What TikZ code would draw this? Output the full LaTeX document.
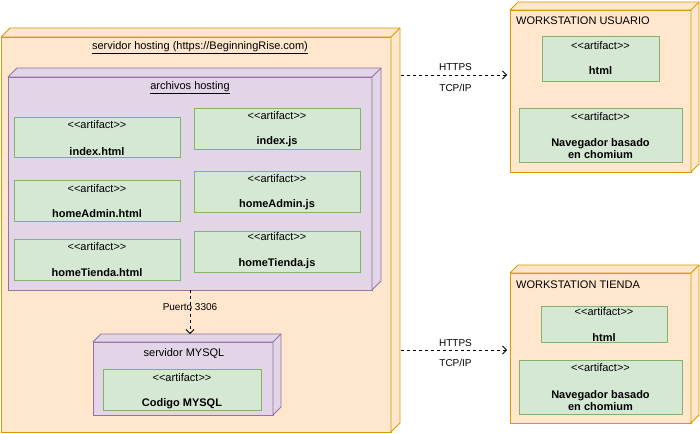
\documentclass[tikz,border=0pt]{standalone}
\usepackage{fontspec}
\setmainfont{Liberation Sans}
\usetikzlibrary{arrows.meta,calc}
\definecolor{orfill}{HTML}{FFE6CC}
\definecolor{ordraw}{HTML}{D79B00}
\definecolor{pufill}{HTML}{E1D5E7}
\definecolor{pudraw}{HTML}{9673A6}
\definecolor{grfill}{HTML}{D5E8D4}
\definecolor{grdraw}{HTML}{82B366}
\newcommand\stereo{<\kern0pt<artifact>\kern0pt>}
\newcommand\cubeside[3]{%
  \filldraw[#3] (#1.north west) -- ++(#2,-#2) -- ([shift={(#2,-#2)}]#1.north east)
    -- ([shift={(#2,-#2)}]#1.south east) -- (#1.south east) -- (#1.north east) -- cycle;
  \draw[#3] (#1.north east) -- ++(#2,-#2);}
\begin{document}
\begin{tikzpicture}[x=1pt,y=-1pt,
  face/.style={inner sep=0, outer sep=0, line width=0.9pt, anchor=north west},
  orbox/.style={face, draw=ordraw, fill=orfill},
  pubox/.style={face, draw=pudraw, fill=pufill},
  artbox/.style={face, draw=grdraw, fill=grfill},
  orside/.style={draw=ordraw, fill=orfill, line width=0.9pt, line join=round},
  puside/.style={draw=pudraw, fill=pufill, line width=0.9pt, line join=round},
  txt/.style={inner sep=0, font=\fontsize{11}{13}\selectfont},
  bold/.style={inner sep=0, align=center, font=\fontsize{11}{12}\selectfont\bfseries},
  small/.style={inner sep=0, font=\fontsize{10}{12}\selectfont},
  conn/.style={dash pattern=on 3pt off 3pt, line width=0.8pt, -{Straight Barb[length=4pt,width=8pt]}}]
\useasboundingbox (0,0) rectangle (700,433);

% servidor hosting
\node[orbox, minimum width=390pt, minimum height=395pt] (host) at (1,37) {};
\cubeside{host}{9}{orside}
\node[txt] (hostT) at (200,48) {\underline{servidor hosting (https://BeginningRise.com)}};

% archivos hosting
\node[pubox, minimum width=364pt, minimum height=213pt] (arch) at (8,77) {};
\cubeside{arch}{9}{puside}
\node[txt] (archT) at (190,88) {\underline{archivos hosting}};

% artifacts
\node[artbox, minimum width=166pt, minimum height=40pt] (a1) at (14,117) {};
\node[txt] (a1s) at (97,125) {\stereo};
\node[bold] (a1n) at (97,152) {index.html};

\node[artbox, minimum width=166pt, minimum height=41pt] (a2) at (194,108) {};
\node[txt] (a2s) at (277,116) {\stereo};
\node[bold] (a2n) at (277,142) {index.js};

\node[artbox, minimum width=166pt, minimum height=41pt] (a3) at (14,180) {};
\node[txt] (a3s) at (97,189) {\stereo};
\node[bold] (a3n) at (97,214) {homeAdmin.html};

\node[artbox, minimum width=166pt, minimum height=41pt] (a4) at (194,171) {};
\node[txt] (a4s) at (277,179) {\stereo};
\node[bold] (a4n) at (277,205) {homeAdmin.js};

\node[artbox, minimum width=166pt, minimum height=41pt] (a5) at (14,239) {};
\node[txt] (a5s) at (97,247) {\stereo};
\node[bold] (a5n) at (97,273) {homeTienda.html};

\node[artbox, minimum width=166pt, minimum height=41pt] (a6) at (194,231) {};
\node[txt] (a6s) at (277,237) {\stereo};
\node[bold] (a6n) at (277,264) {homeTienda.js};

% servidor MYSQL
\node[pubox, minimum width=180pt, minimum height=73pt] (mysql) at (93,342) {};
\cubeside{mysql}{8}{puside}
\node[txt] (mysqlT) at (184,354) {servidor MYSQL};
\node[artbox, minimum width=158pt, minimum height=41pt] (cod) at (103,369) {};
\node[txt] (cods) at (182,378) {\stereo};
\node[bold] (codn) at (182,404) {Codigo MYSQL};

% WORKSTATION USUARIO
\node[orbox, minimum width=181pt, minimum height=162pt] (wsu) at (510,10) {};
\cubeside{wsu}{8}{orside}
\node[txt, anchor=west] (wsuT) at (516,21) {WORKSTATION USUARIO};
\node[artbox, minimum width=117pt, minimum height=45pt] (u1) at (542,36) {};
\node[txt] (u1s) at (600.5,46) {\stereo};
\node[bold] (u1n) at (600.5,71) {html};
\node[artbox, minimum width=163pt, minimum height=54pt] (u2) at (519,108) {};
\node[txt] (u2s) at (600.5,117) {\stereo};
\node[bold] (u2n) at (600.5,149) {Navegador basado\\en chomium};

% WORKSTATION TIENDA
\node[orbox, minimum width=181pt, minimum height=150pt] (wst) at (510,273) {};
\cubeside{wst}{8}{orside}
\node[txt, anchor=west] (wstT) at (516,285) {WORKSTATION TIENDA};
\node[artbox, minimum width=126pt, minimum height=36pt] (t1) at (541,306) {};
\node[txt] (t1s) at (604,312) {\stereo};
\node[bold] (t1n) at (604,338) {html};
\node[artbox, minimum width=163pt, minimum height=54pt] (t2) at (519,360) {};
\node[txt] (t2s) at (600.5,368) {\stereo};
\node[bold] (t2n) at (600.5,400.5) {Navegador basado\\en chomium};

% connectors
\coordinate (mtop) at ([yshift=8pt]mysql.north);
\draw[conn] (arch.south) -- (arch.south |- mtop)
  node[small, pos=0.39] (lp) {Puerto 3306};

\coordinate (c1) at (401,75);
\draw[conn, shorten >=3pt] (c1) -- (c1 -| wsu.west)
  node[small, midway, yshift=8pt] (l1a) {HTTPS}
  node[small, midway, yshift=-13pt] (l1b) {TCP/IP};

\coordinate (c2) at (401,350);
\draw[conn, shorten >=3pt] (c2) -- (c2 -| wst.west)
  node[small, midway, yshift=6.5pt] (l2a) {HTTPS}
  node[small, midway, yshift=-13pt] (l2b) {TCP/IP};
\end{tikzpicture}
\end{document}
